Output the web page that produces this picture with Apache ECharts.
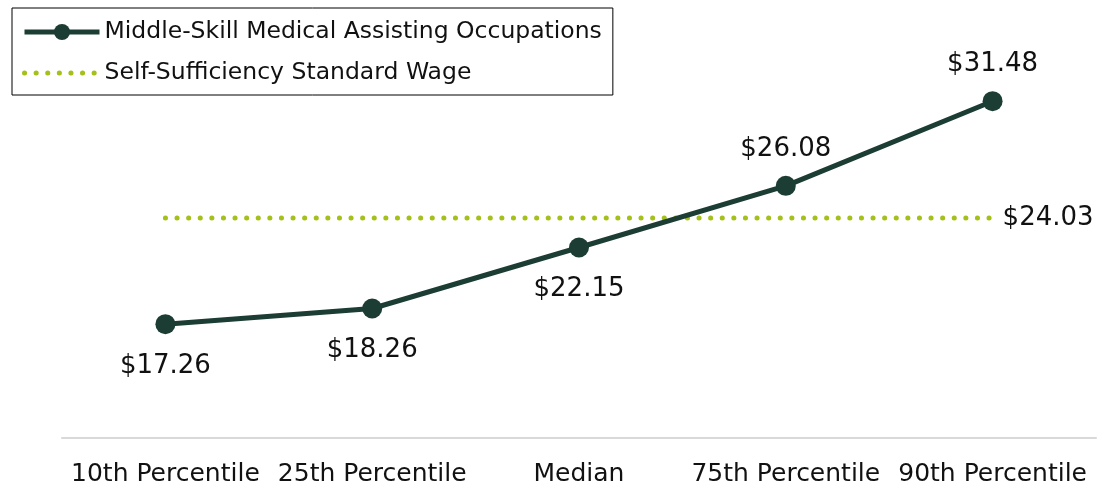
<!DOCTYPE html>
<html><head><meta charset="utf-8">
<script src="https://cdn.jsdelivr.net/npm/echarts@6/dist/echarts.min.js"></script>
<style>html,body{margin:0;padding:0;background:#fff}#c{width:1097px;height:486px}</style>
</head><body><div id="c"></div>
<script>
const categories = ['10th Percentile','25th Percentile','Median','75th Percentile','90th Percentile'];
const occupationWages = [17.26, 18.26, 22.15, 26.08, 31.48];
const selfSufficiencyWage = [24.03, 24.03, 24.03, 24.03, 24.03];
const labelBelow = [true, true, true, false, false];
const seriesNames = ['Middle-Skill Medical Assisting Occupations', 'Self-Sufficiency Standard Wage'];

const FONT = '"DejaVu Sans", sans-serif';
const chart = echarts.init(document.getElementById('c'));
chart.setOption({
  animation: false,
  textStyle: {fontFamily: FONT},
  grid: {left: 62, right: 1, top: 46, bottom: 48, containLabel: false, outerBoundsMode: 'none'},
  legend: {
    orient: 'vertical', left: 12, top: 8,
    borderColor: '#000', borderWidth: 1,
    padding: [12, 11, 10, 10],
    itemGap: 17, itemWidth: 75, itemHeight: 20,
    lineStyle: {width: 5},
    textStyle: {fontSize: 23.5, color: '#111', fontFamily: FONT},
    data: seriesNames
  },
  xAxis: {
    type: 'category', data: categories, boundaryGap: true,
    axisLine: {lineStyle: {color: '#d9d9d9', width: 2}},
    axisTick: {show: false},
    axisLabel: {fontSize: 25, color: '#111', margin: 24, interval: 0}
  },
  yAxis: {
    type: 'value', min: 10, max: 35,
    show: false, splitLine: {show: false}
  },
  series: [
    {
      name: seriesNames[0], type: 'line', data: occupationWages.map((v, i) => ({
        value: v,
        label: labelBelow[i] ? {position: 'bottom', distance: 19} : {position: 'top', distance: 14}
      })),
      symbol: 'circle', symbolSize: 20,
      lineStyle: {color: '#1c3d33', width: 5},
      itemStyle: {color: '#1c3d33'},
      label: {show: true, fontSize: 26, color: '#111',
        formatter: p => '$' + p.value.toFixed(2)},
      z: 3
    },
    {
      name: seriesNames[1], type: 'line', data: selfSufficiencyWage,
      symbol: 'circle', showSymbol: false,
      lineStyle: {color: '#a4c01a', width: 5, type: [0.1, 11.5], cap: 'round'},
      itemStyle: {color: '#a4c01a', opacity: 0},
      endLabel: {show: true, fontSize: 26, color: '#111', distance: 10,
        formatter: p => '$' + p.value.toFixed(2)},
      z: 2
    }
  ]
});
</script></body></html>
